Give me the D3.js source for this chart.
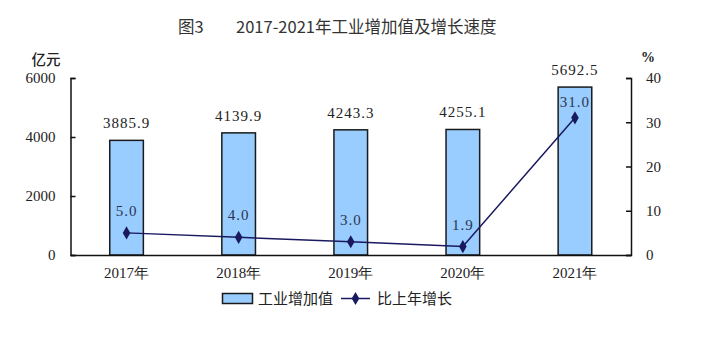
<!DOCTYPE html>
<html>
<head>
<meta charset="utf-8">
<script src="https://cdn.jsdelivr.net/npm/d3@7"></script>
<style>
  html, body { margin: 0; padding: 0; background: #fff; }
  svg { display: block; }
</style>
</head>
<body>
<svg id="chart" width="714" height="338"></svg>
<script>
// Industrial value added (亿元) and year-on-year growth (%), 2017–2021
const years = ["2017年", "2018年", "2019年", "2020年", "2021年"];
const valueAdded = [3885.9, 4139.9, 4243.3, 4255.1, 5692.5];
const growth = [5.0, 4.0, 3.0, 1.9, 31.0];
const leftTicks = [0, 2000, 4000, 6000];
const rightTicks = [0, 10, 20, 30, 40];

const svg = d3.select("#chart");
const m = { left: 70.5, right: 631, top: 78, bottom: 255 };

const numFont = "'Liberation Serif', 'DejaVu Serif', serif";
const cjkFont = "'Noto Sans CJK SC', 'Noto Sans', sans-serif";

const x = d3.scaleBand().domain(years).range([m.left, m.right]).paddingInner(0.7).paddingOuter(0.35);
const yL = d3.scaleLinear().domain([0, 6000]).range([m.bottom, m.top]);
const yR = d3.scaleLinear().domain([0, 40]).range([m.bottom, m.top]);

// Title: figure number and caption
svg.append("text")
  .attr("x", 178).attr("y", 33)
  .attr("font-family", cjkFont).attr("font-size", 16.5).attr("fill", "#333")
  .text("图3");
svg.append("text")
  .attr("x", 236).attr("y", 33)
  .attr("font-family", cjkFont).attr("font-size", 16.5).attr("fill", "#333")
  .text("2017-2021年工业增加值及增长速度");

// Bars
svg.append("g").selectAll("rect").data(valueAdded).join("rect")
  .attr("x", (d, i) => x(years[i]))
  .attr("y", d => yL(d))
  .attr("width", x.bandwidth())
  .attr("height", d => yL(0) - yL(d))
  .attr("fill", "#99ccff")
  .attr("stroke", "#1a1a1a")
  .attr("stroke-width", 1.5);

// Bar value labels
svg.append("g").selectAll("text").data(valueAdded).join("text")
  .attr("x", (d, i) => x(years[i]) + x.bandwidth() / 2)
  .attr("y", d => yL(d) - 12)
  .attr("text-anchor", "middle")
  .attr("font-family", numFont).attr("font-size", 15).attr("letter-spacing", 1)
  .attr("fill", "#222")
  .text(d => d.toFixed(1));

// Left axis
const axL = svg.append("g").attr("transform", `translate(${m.left},0)`)
  .call(d3.axisLeft(yL).tickValues(leftTicks).tickSize(-5).tickPadding(15).tickFormat(d3.format("d")));
// Right axis
const axR = svg.append("g").attr("transform", `translate(${m.right},0)`)
  .call(d3.axisRight(yR).tickValues(rightTicks).tickSize(-5).tickPadding(15).tickFormat(d3.format("d")));
[axL, axR].forEach(ax => {
  ax.select(".domain").attr("stroke", "#111").attr("stroke-width", 1.5);
  ax.selectAll(".tick line").attr("stroke", "#111").attr("stroke-width", 1.5);
  ax.selectAll(".tick text").attr("font-family", numFont).attr("font-size", 15).attr("fill", "#222");
});

// Bottom axis
const axB = svg.append("g").attr("transform", `translate(0,${m.bottom})`)
  .call(d3.axisBottom(x).tickSize(0).tickPadding(12));
axB.select(".domain").attr("stroke", "#111").attr("stroke-width", 1.5);
axB.selectAll(".tick text").attr("font-family", numFont).attr("font-size", 15).attr("fill", "#222");

// Axis units
svg.append("text").attr("x", 46).attr("y", 65).attr("text-anchor", "middle")
  .attr("font-family", cjkFont).attr("font-size", 14.5).attr("font-weight", 500).attr("fill", "#222").text("亿元");
svg.append("text").attr("x", 648).attr("y", 62).attr("text-anchor", "middle")
  .attr("font-family", numFont).attr("font-size", 14).attr("font-weight", "bold").attr("fill", "#222").text("%");

// Growth line
const lineColor = "#191960";
const pts = growth.map((g, i) => [x(years[i]) + x.bandwidth() / 2, yR(g)]);
svg.append("path").datum(pts)
  .attr("d", d3.line())
  .attr("fill", "none").attr("stroke", lineColor).attr("stroke-width", 1.5);
svg.append("g").selectAll("path").data(pts).join("path")
  .attr("transform", d => `translate(${d[0]},${d[1]})`)
  .attr("d", d3.symbol(d3.symbolDiamond, 50))
  .attr("fill", lineColor);

// Growth labels
svg.append("g").selectAll("text").data(growth).join("text")
  .attr("x", (d, i) => pts[i][0])
  .attr("y", (d, i) => pts[i][1] - (i === growth.length - 1 ? 11 : 17))
  .attr("text-anchor", "middle")
  .attr("font-family", numFont).attr("font-size", 15).attr("letter-spacing", 1)
  .attr("fill", "#2b3550")
  .text(d => d.toFixed(1));

// Legend
const lg = svg.append("g");
lg.append("rect").attr("x", 222.5).attr("y", 293.5).attr("width", 30).attr("height", 10)
  .attr("fill", "#99ccff").attr("stroke", "#1a1a1a").attr("stroke-width", 1.5);
lg.append("text").attr("x", 258).attr("y", 304)
  .attr("font-family", cjkFont).attr("font-size", 15).attr("fill", "#222").text("工业增加值");
lg.append("line").attr("x1", 341).attr("x2", 370).attr("y1", 298.5).attr("y2", 298.5)
  .attr("stroke", lineColor).attr("stroke-width", 1.5);
lg.append("path").attr("transform", "translate(355.5,298.5)")
  .attr("d", d3.symbol(d3.symbolDiamond, 50)).attr("fill", lineColor);
lg.append("text").attr("x", 377).attr("y", 304)
  .attr("font-family", cjkFont).attr("font-size", 15).attr("fill", "#222").text("比上年增长");
</script>
</body>
</html>
